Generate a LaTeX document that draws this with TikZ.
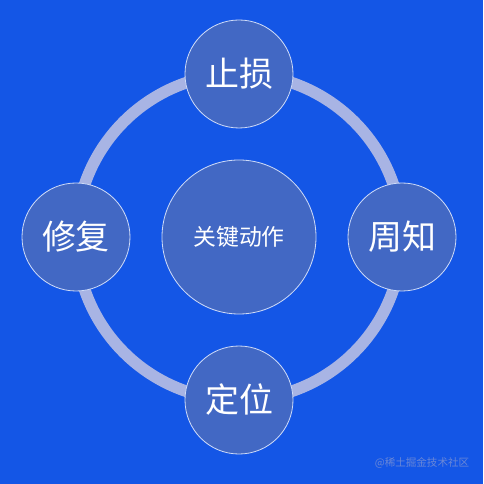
\documentclass[tikz,border=0pt]{standalone}
\usepackage{fontspec}
\setmainfont{Noto Sans CJK SC}
\usepackage{xcolor}
\usepackage{tikz}
\usetikzlibrary{positioning}
\definecolor{bgblue}{RGB}{20,86,230}
\definecolor{nodeblue}{RGB}{66,104,196}
\definecolor{ringgray}{RGB}{168,180,228}
\definecolor{rimblue}{RGB}{205,218,248}
\definecolor{wmblue}{RGB}{105,135,215}
\tikzset{
  corebox/.style={circle, draw=rimblue, line width=0.7pt, fill=nodeblue, outer sep=0pt,
    minimum size=4.62cm, text=white, font=\fontsize{19.5}{19.5}\selectfont},
  stepbox/.style={circle, draw=rimblue, line width=0.7pt, fill=nodeblue, outer sep=0pt,
    minimum size=3.24cm, text=white, font=\fontsize{29}{29}\selectfont},
  ring/.style={ringgray, line width=0.35cm},
  wmtext/.style={text=wmblue, font=\fontsize{9}{9}\selectfont},
}
\begin{document}
\begin{tikzpicture}[x=0.03cm, y=0.03cm, node distance=0.96cm]
  \fill[bgblue] (-239,-247) rectangle (244,237);
  \useasboundingbox (-239,-247) rectangle (244,237);
  \coordinate (mid) at (0,0);
  % ring behind the four steps
  \draw[ring] (mid) circle[radius=4.89cm];
  \node[corebox] (core) at (mid) {关键动作};
  \node[stepbox, above=of core] (stop) {止损};
  \node[stepbox, right=of core] (notify) {周知};
  \node[stepbox, below=of core] (locate) {定位};
  \node[stepbox, left=of core] (repair) {修复};
  \node[wmtext] (wm) at (183,-226) {@稀土掘金技术社区};
\end{tikzpicture}
\end{document}
